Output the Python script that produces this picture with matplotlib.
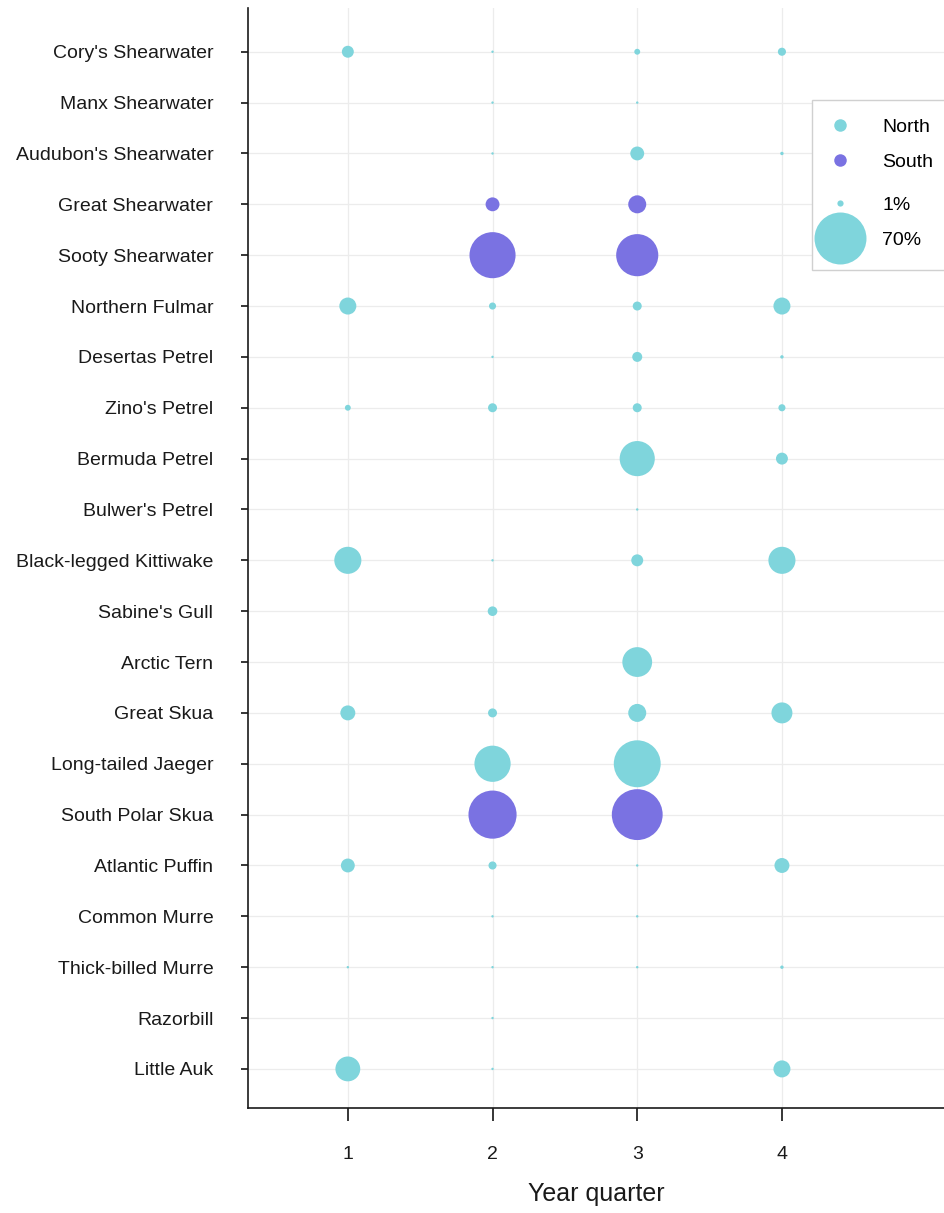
#!/usr/bin/env python
"""
Seabird occurrence by year quarter (bubble chart)
"""

import numpy as np
import matplotlib
matplotlib.use('Agg')
import matplotlib.pyplot as plt
from matplotlib.lines import Line2D
from matplotlib.patches import Rectangle

plt.rcParams['font.family'] = ['Liberation Sans', 'DejaVu Sans']

species = [
    "Cory's Shearwater", "Manx Shearwater", "Audubon's Shearwater",
    "Great Shearwater", "Sooty Shearwater", "Northern Fulmar",
    "Desertas Petrel", "Zino's Petrel", "Bermuda Petrel", "Bulwer's Petrel",
    "Black-legged Kittiwake", "Sabine's Gull", "Arctic Tern", "Great Skua",
    "Long-tailed Jaeger", "South Polar Skua", "Atlantic Puffin",
    "Common Murre", "Thick-billed Murre", "Razorbill", "Little Auk",
]
hemisphere = [
    'North', 'North', 'North', 'South', 'South', 'North', 'North', 'North',
    'North', 'North', 'North', 'North', 'North', 'North', 'North', 'South',
    'North', 'North', 'North', 'North', 'North',
]
quarters = [1, 2, 3, 4]

# percentage of birds per quarter (nan = not recorded)
nan = np.nan
q1 = [3.7, nan, nan, nan, nan, 7.5, nan, 0.9, nan, nan, 19, nan, nan, 5.8,
      nan, nan, 5.0, nan, 0.15, nan, 16]
q2 = [0.15, 0.15, 0.15, 5.0, 55, 1.3, 0.15, 2.1, nan, nan, 0.15, 2.4, nan,
      2.1, 34, 60, 1.7, 0.15, 0.15, 0.15, 0.15]
q3 = [0.9, 0.15, 5.0, 8.4, 46, 2.1, 2.6, 2.1, 32, 0.15, 3.7, nan, 23, 8.4,
      57, 67, 0.15, 0.15, 0.15, nan, nan]
q4 = [1.7, nan, 0.3, nan, nan, 7.5, 0.3, 1.3, 3.7, nan, 19, nan, nan, 11.4,
      nan, nan, 5.8, nan, 0.3, nan, 7.5]

colors = {'North': '#7fd5dc', 'South': '#7a72e2'}
SIZE_PER_PCT = 20  # marker area (pt^2) per percent
W, H = 944, 1213


def fig_xy(px, py):
    """Pixel position (from top-left) to figure fraction."""
    return px / W, 1 - py / H


def main():
    fig = plt.figure(figsize=(W / 100, H / 100), dpi=100)
    ax = fig.add_axes([0.2627, 0.0865, 0.7373, 0.9069])

    ypos = np.arange(len(species))[::-1]
    for q, vals in zip(quarters, [q1, q2, q3, q4]):
        vals = np.array(vals, dtype=float)
        ok = ~np.isnan(vals)
        cols = [colors[h] for h in hemisphere]
        ax.scatter(np.full(ok.sum(), q), ypos[ok], s=vals[ok] * SIZE_PER_PCT,
                   c=np.array(cols)[ok], linewidths=0, zorder=3)

    ax.set_xlim(0.31, 5.12)
    ax.set_ylim(-0.77, len(species) - 1 + 0.86)
    ax.set_xticks(quarters)
    ax.set_yticks(ypos)
    ax.set_yticklabels(species)
    ax.grid(True, color='#ececec', linewidth=0.9, zorder=0)
    ax.set_axisbelow(True)

    for side in ('top', 'right'):
        ax.spines[side].set_visible(False)
    for side in ('left', 'bottom'):
        ax.spines[side].set_linewidth(1.2)
        ax.spines[side].set_color('#1a1a1a')

    ax.tick_params(axis='y', length=5, width=1.1, pad=20, labelsize=14,
                   labelcolor='#1a1a1a')
    ax.tick_params(axis='x', length=9, width=1.1, pad=18, labelsize=14,
                   labelcolor='#1a1a1a')
    ax.set_xlabel('Year quarter', fontsize=18, color='#1a1a1a', labelpad=14)

    # legend frame (white box, cut by the right edge)
    x0, y0 = fig_xy(812, 270)
    frame = Rectangle((x0, y0), 0.2, 170 / H, transform=fig.transFigure,
                      facecolor='white', edgecolor='#d0d0d0', linewidth=1.0,
                      zorder=4, clip_on=False)
    ax.add_patch(frame)

    leg_kw = dict(loc='center left', bbox_transform=fig.transFigure,
                  fontsize=14, frameon=False, labelspacing=0.9,
                  handlelength=1.6, handletextpad=1.37, borderpad=0,
                  borderaxespad=0)
    colour_handles = [
        Line2D([], [], ls='', marker='o', ms=9, mew=0, color=colors['North']),
        Line2D([], [], ls='', marker='o', ms=9, mew=0, color=colors['South']),
    ]
    leg1 = ax.legend(colour_handles, ['North', 'South'],
                     bbox_to_anchor=fig_xy(824.5, 144.5), **leg_kw)
    leg1.set_zorder(6)
    ax.add_artist(leg1)

    size_handles = [
        Line2D([], [], ls='', marker='o', ms=np.sqrt(1 * SIZE_PER_PCT), mew=0,
               color=colors['North']),
        Line2D([], [], ls='', marker='o', ms=np.sqrt(70 * SIZE_PER_PCT), mew=0,
               color=colors['North']),
    ]
    leg2 = ax.legend(size_handles, ['1%', '70%'],
                     bbox_to_anchor=fig_xy(824.5, 222.5), **leg_kw)
    leg2.set_zorder(6)

    fig.savefig('out.png', dpi=100)


if __name__ == '__main__':
    main()
